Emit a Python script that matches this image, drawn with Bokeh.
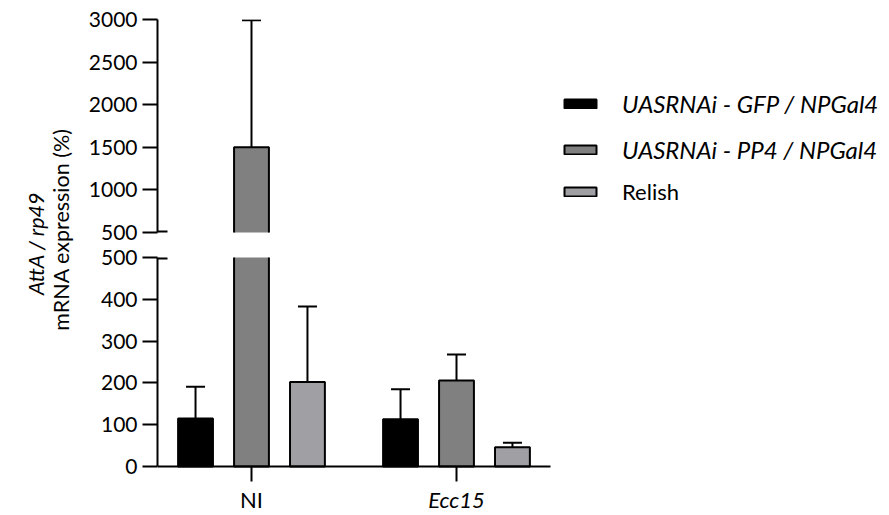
from math import pi
from bokeh.plotting import figure
from bokeh.layouts import row, column
from bokeh.models import (Range1d, FixedTicker, Label, Legend, LegendItem, LinearAxis,
                          ColumnDataSource)
from bokeh.core.properties import value
from bokeh.embed import file_html
from bokeh.resources import INLINE

# ---------------- data ----------------
groups = ["NI", "Ecc15"]
group_styles = ["normal", "italic"]
series = ["UASRNAi - GFP / NPGal4", "UASRNAi - PP4 / NPGal4", "Relish"]
gfp_mean = [115, 113]
gfp_err = [76, 72]
pp4_mean = [1500, 206]
pp4_err = [1490, 62]
rel_mean = [202, 46]
rel_err = [181, 11]
lower_ticks = [0, 100, 200, 300, 400, 500]
upper_ticks = [500, 1000, 1500, 2000, 2500, 3000]
colors = ["#000000", "#808080", "#a09fa4"]
BREAK = 500

means = [gfp_mean, pp4_mean, rel_mean]
errs = [gfp_err, pp4_err, rel_err]

# ---------------- layout constants ----------------
FONT = "Lato"
TICK_FS = "21px"
TEXT_FS = "21.5px"
CAT_FS = "22px"
group_x = [0, 1]
offsets = [-0.273, 0.0, 0.273]
BAR_W = 0.17
PX = 205.0                 # pixels per x unit
X0 = -0.4585               # x-axis start (frame left)
X1 = 1.4585                # x-axis end
TITLE_W = 80
LEFT_B = 77
MAIN_W = 808
XE = X0 + (MAIN_W - LEFT_B) / PX
BREAK_D = 10 / PX


def style_yaxis(ya, ticks, bounds):
    ya.ticker = FixedTicker(ticks=ticks)
    ya.bounds = bounds
    ya.minor_tick_line_color = None
    ya.major_tick_out = 15
    ya.major_tick_in = 0
    ya.axis_line_width = 2
    ya.major_tick_line_width = 2
    ya.major_label_text_font = FONT
    ya.major_label_text_font_size = TICK_FS
    ya.major_label_text_color = "black"
    ya.major_label_standoff = 5


def make_fig(yr, ticks, bounds, h, bt, bb):
    p = figure(width=MAIN_W, height=h, x_range=Range1d(X0, XE), y_range=Range1d(*yr),
               output_backend="svg", toolbar_location=None, title=None,
               min_border_left=LEFT_B, min_border_right=0, min_border_top=bt,
               min_border_bottom=bb, x_axis_type=None)
    p.outline_line_color = None
    p.grid.visible = False
    p.background_fill_color = None
    p.border_fill_color = None
    style_yaxis(p.yaxis[0], ticks, bounds)
    renderers = []
    for i in range(3):
        xs = [g + offsets[i] for g in group_x]
        src = ColumnDataSource(dict(
            x=xs,
            top=means[i],
            mid=[m / 2 for m in means[i]],
            etop=[m + e for m, e in zip(means[i], errs[i])],
        ))
        p.segment(x0="x", y0="top", x1="x", y1="etop", source=src,
                  line_color="black", line_width=2)
        p.scatter(x="x", y="etop", source=src, marker="dash", size=19,
                  line_color="black", line_width=2)
        r = p.rect(x="x", y="mid", width=BAR_W, height="top", source=src,
                   fill_color=colors[i], line_color="black", line_width=2)
        renderers.append(r)
    # axis-break mark (inner half; outer half is the axis tick)
    p.segment(x0=[X0], y0=[BREAK], x1=[X0 + BREAK_D], y1=[BREAK],
              line_color="black", line_width=4)
    return p, renderers


upper, up_r = make_fig((BREAK, 3000), upper_ticks, (BREAK, 3000), 244, 19, 12)
LOW_BOTTOM = BREAK - 257 / (209 / BREAK)
lower, low_r = make_fig((LOW_BOTTOM, BREAK), lower_ticks, (0, BREAK), 270, 13, 0)

# x axis (drawn at y=0, ticks pointing down)
xa = LinearAxis(ticker=FixedTicker(ticks=group_x), fixed_location=0, bounds=(X0, X1),
                major_tick_out=0, major_tick_in=15, axis_line_width=2,
                major_tick_line_width=2, minor_tick_line_color=None,
                major_label_overrides={0: "", 1: ""}, major_label_text_font_size="1px",
                major_label_standoff=0)
lower.add_layout(xa, "above")

# category labels (NI upright, Ecc15 italic)
cat_src = ColumnDataSource(dict(x=group_x, y=[-80, -80], text=groups, style=group_styles))
lower.text(x="x", y="y", text="text", source=cat_src, text_align="center",
           text_baseline="middle", text_font=value(FONT), text_font_size=value(CAT_FS),
           text_font_style="style", text_color="black")

# legends
legA = Legend(items=[LegendItem(label=series[0], renderers=[up_r[0]]),
                     LegendItem(label=series[1], renderers=[up_r[1]])],
              location=(403, 68))
legB = Legend(items=[LegendItem(label=series[2], renderers=[up_r[2]])],
              location=(403, 27))
for lg, st, fs in ((legA, "italic", "24px"), (legB, "normal", "22px")):
    lg.background_fill_alpha = 0
    lg.border_line_color = None
    lg.label_text_font = FONT
    lg.label_text_font_style = st
    lg.label_text_font_size = fs
    lg.label_text_color = "black"
    lg.glyph_width = 40
    lg.glyph_height = 11
    lg.label_standoff = 22
    lg.padding = 0
    lg.margin = 0
    lg.spacing = 17
    lg.label_height = 25
    upper.add_layout(lg)

# y axis title
H = 514
lab = figure(width=TITLE_W, height=H, x_range=Range1d(0, TITLE_W), y_range=Range1d(0, H),
             min_border=0, output_backend="svg", toolbar_location=None, title=None,
             x_axis_type=None, y_axis_type=None)
lab.outline_line_color = None
lab.add_layout(Label(x=35, y=H - 243, text="AttA / rp49", angle=pi / 2, text_align="center",
                     text_baseline="middle", text_font=FONT, text_font_size=TEXT_FS,
                     text_font_style="italic", text_color="black"))
lab.add_layout(Label(x=60, y=H - 229, text="mRNA expression (%)", angle=pi / 2,
                     text_align="center", text_baseline="middle", text_font=FONT,
                     text_font_size=TEXT_FS, text_color="black"))

layout = row(lab, column(upper, lower))
open("out.html", "w").write(file_html(layout, INLINE))
